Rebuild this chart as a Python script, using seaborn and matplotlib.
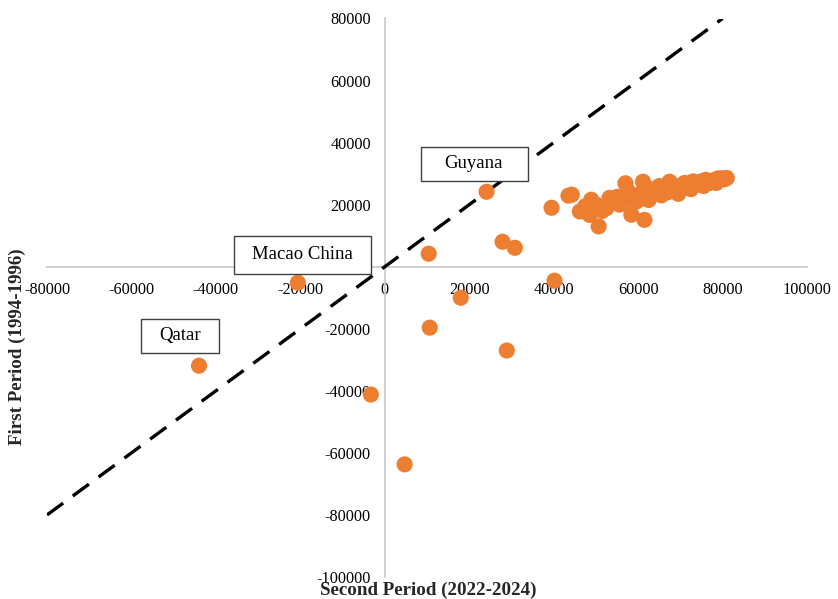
import matplotlib
matplotlib.use("Agg")
import matplotlib.pyplot as plt
from matplotlib.patches import Rectangle
import seaborn as sns
import pandas as pd

# ---------------- data ----------------
second_period = [
    -44000, -20600, -3300, 4700, 10650, 18000, 28900, 40200, 10400, 24100, 27900, 30800, 39500,
    43500, 44300, 46200, 47500, 48500, 48900, 49500, 50100, 50650, 51500, 52500, 53250, 54000,
    55000, 55600, 55600, 56500, 57000, 57500, 58000, 58400, 59000, 59600, 60500, 61150, 61500,
    61000, 62000, 62500, 63500, 64300, 65000, 65500, 66000, 67000, 67450, 68000, 69000, 69500,
    70500, 71000, 72000, 72500, 73000, 74000, 75000, 75500, 76000, 77000, 78000, 78500, 79000,
    80000, 80500, 81000,
]
first_period = [
    -31900, -5150, -41200, -63700, -19640, -10000, -27000, -4500, 4200, 24150, 8050, 6100, 19000,
    22900, 23200, 17800, 19500, 16700, 21600, 18500, 20000, 13000, 18000, 18900, 22200, 21500,
    22500, 20000, 22200, 21000, 26900, 24500, 23000, 16750, 22500, 21000, 23500, 27400, 15100,
    22000, 24000, 21500, 25000, 24250, 26000, 23000, 25500, 24000, 27400, 25500, 26000, 23500,
    25500, 27000, 26500, 25000, 27500, 26500, 27500, 26000, 28000, 27000, 28000, 27000, 28500,
    28500, 28200, 28600,
]
diag_x = [-80000, 80000]
diag_y = [-80000, 80000]

x_ticks = [-80000, -60000, -40000, -20000, 0, 20000, 40000, 60000, 80000, 100000]
y_ticks = [80000, 60000, 40000, 20000, -20000, -40000, -60000, -80000, -100000]

labels = ["Guyana", "Macao China", "Qatar"]

df = pd.DataFrame({"second": second_period, "first": first_period})
diag = pd.DataFrame({"x": diag_x, "y": diag_y})

# ---------------- style ----------------
sns.set_theme(style="white")
plt.rcParams["font.family"] = ["Liberation Serif", "DejaVu Serif"]

fig = plt.figure(figsize=(8.38, 5.99), dpi=100)
ax = fig.add_axes([47 / 838, 1 - 577 / 599, (807 - 47) / 838, (577 - 18.5) / 599])

orange = "#ED7D31"

sns.lineplot(data=diag, x="x", y="y", ax=ax, color="black", lw=2.4,
             dashes=False, zorder=2)
ax.lines[-1].set_dashes((6, 3.6))

sns.scatterplot(data=df, x="second", y="first", ax=ax, color=orange,
                s=135, edgecolor="none", linewidth=0, zorder=3)

ax.set_xlim(-80000, 100000)
ax.set_ylim(-100000, 80000)

for side in ["top", "right"]:
    ax.spines[side].set_visible(False)
ax.spines["left"].set_position(("data", 0))
ax.spines["bottom"].set_position(("data", 0))
for side in ["left", "bottom"]:
    ax.spines[side].set_color("#c8c8c8")
    ax.spines[side].set_linewidth(1.2)
    ax.spines[side].set_zorder(1)

ax.set_xticks(x_ticks)
ax.set_xticklabels([str(v) for v in x_ticks])
ax.set_yticks(y_ticks)
ax.set_yticklabels([str(v) for v in y_ticks])
ax.tick_params(axis="both", length=0, labelsize=11.7, colors="black")
ax.tick_params(axis="x", pad=11)
ax.tick_params(axis="y", pad=10)
ax.set_xlabel("")
ax.set_ylabel("")
ax.grid(False)

# ---------------- label boxes ----------------
boxes = [
    ((8520, 27690), 33850 - 8520, 38630 - 27690, (21060, 33300)),
    ((-35740, -2250), -3310 + 35740, 9980 + 2250, (-19500, 3800)),
    ((-57750, -27690), -39290 + 57750, -16740 + 27690, (-48500, -22300)),
]
for lab, (xy, w, h, c) in zip(labels, boxes):
    ax.add_patch(Rectangle(xy, w, h, facecolor="white", edgecolor="#404040",
                           lw=1.0, zorder=4))
    ax.text(c[0], c[1], lab, ha="center", va="center", fontsize=13.5,
            color="black", zorder=5)

fig.text(428 / 838, 1 - 590 / 599, "Second Period (2022-2024)", ha="center",
         va="center", fontsize=13.7, fontweight="bold")
fig.text(17 / 838, 1 - 347 / 599, "First Period (1994-1996)", ha="center",
         va="center", rotation=90, fontsize=13.7, fontweight="bold")

fig.savefig("out.png", dpi=100)
